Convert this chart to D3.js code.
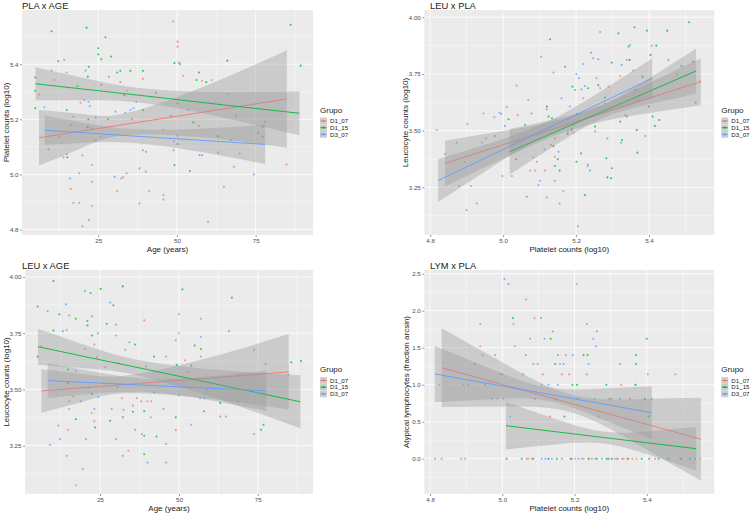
<!DOCTYPE html>
<html>
<head>
<meta charset="utf-8">
<script src="https://cdn.jsdelivr.net/npm/d3@7"></script>
<style>
  body { margin: 0; background: #fff; }
  svg { display: block; font-family: "Liberation Sans", Arial, sans-serif; }
</style>
</head>
<body>
<div id="chart"></div>
<script>
const groups = ["D1_07", "D1_15", "D3_07"];
const groupColors = ["#F8766D", "#00BA38", "#619CFF"];

// ---- PLA x AGE : [age, platelets log10]
const plaAge_D1_07 = [[48.8,5.555],[50.2,5.482],[50.2,5.464],[52,5.358],[10.2,5.377],[11,5.343],[15,5.37],[17.1,5.21],[16.3,5.18],[26,5.325],[32,5.335],[34.1,5.304],[39.2,5.347],[42,5.282],[58,5.34],[61,5.343],[57,5.176],[49,5.12],[50.2,5.14],[48.9,5.088],[39.2,5.088],[41.2,4.94],[31,4.94],[32.9,4.99],[23.1,5.034],[23.1,4.886],[22.1,4.834],[20,5.069],[17.1,4.897],[16.3,4.948],[15,5.073],[19.4,5.26],[21.5,5.17],[24.2,5.122],[84.8,5.036],[6.3,5.29],[35.7,5.2]];
const plaAge_D1_15 = [[5,5.352],[5,5.304],[5,5.24],[10.2,5.52],[12.3,5.411],[15.2,5.062],[15,5.234],[18.4,5.32],[21.3,5.533],[22,5.391],[21.7,5.355],[21.7,5.173],[21.9,5.2],[25,5.458],[25,5.436],[26,5.418],[27.3,5.498],[29.1,5.428],[31,5.37],[32,5.376],[28.1,5.2],[35.2,5.376],[33.3,5.288],[39.2,5.376],[39.2,5.234],[43.3,5.297],[48.1,5.213],[49.2,5.404],[51,5.401],[50.2,5.258],[49.2,5.034],[50.2,5.11],[54.1,5.012],[56.2,5.343],[57,5.37],[55.2,5.189],[59.3,5.335],[66,5.413],[68.8,5.213],[63,5.139],[67,5.125],[75.8,5.151],[77.2,5.137],[77.2,5.173],[86.1,5.543],[89.3,5.395]];
const plaAge_D3_07 = [[14.2,5.416],[7.9,5.244],[20.5,5.27],[21,5.377],[21.9,5.264],[22.3,5.248],[24.2,5.207],[28.4,5.355],[30.5,5.228],[33.6,5.224],[35.2,5.234],[36.2,5.24],[37.1,5.264],[9.2,5.091],[12.6,5.137],[14,5.062],[16.1,4.985],[19,5.004],[19,4.897],[20,4.812],[23.1,4.973],[22.8,5.167],[25.7,5.137],[30.2,4.991],[34,5.004],[32.3,4.985],[38.1,5.022],[38.1,4.895],[40.1,5.01],[40.2,5.082],[45.7,4.925],[45.7,4.909],[45.7,5.161],[50.6,5.406],[53.4,5.234],[57.2,5.07],[58,5.07],[59.9,4.828],[63,5.079],[64.9,4.955],[66,5.292],[68.1,5.028],[69.9,5.076],[74.4,5],[78,5.192]];
// fitted line with confidence band: [x, fit, lower, upper]
const plaAgeFit_D1_07 = [[6.2,5.133,5.032,5.234],[20,5.158,5.097,5.219],[33.7,5.182,5.142,5.222],[59.3,5.228,5.133,5.323],[84.9,5.274,5.097,5.451]];
const plaAgeFit_D1_15 = [[5.1,5.329,5.269,5.389],[22.5,5.307,5.269,5.345],[39.9,5.285,5.258,5.312],[64.4,5.253,5.207,5.299],[88.9,5.222,5.142,5.302]];
const plaAgeFit_D3_07 = [[8,5.160,5.107,5.213],[22.3,5.150,5.116,5.184],[36.6,5.139,5.114,5.164],[57.3,5.124,5.082,5.166],[78,5.109,5.037,5.181]];

// ---- LEU x PLA : [platelets log10, leucocytes log10]
const leuPla_D1_07 = [[4.841,3.397],[4.902,3.529],[4.894,3.363],[4.946,3.576],[4.942,3.447],[4.953,3.466],[5.037,3.699],[5.04,3.569],[5.069,3.635],[5.074,3.324],[5.088,3.324],[5.093,3.363],[5.115,3.324],[5.12,3.594],[5.131,3.437],[5.142,3.466],[5.142,3.385],[5.165,3.234],[5.177,3.496],[5.193,3.491],[5.205,3.079],[5.22,3.643],[5.232,3.344],[5.266,3.687],[5.289,3.694],[5.321,3.741],[5.334,3.569],[5.339,3.812],[5.357,3.765],[5.371,3.635],[5.453,3.812],[5.476,3.749],[5.54,3.716],[5.279,3.621]];
const leuPla_D1_15 = [[5.015,3.55],[5.036,3.374],[5.06,3.525],[5.12,3.606],[5.125,3.562],[5.129,3.903],[5.134,3.555],[5.138,3.432],[5.142,3.344],[5.15,3.374],[5.155,3.324],[5.17,3.782],[5.177,3.485],[5.188,3.503],[5.19,3.694],[5.201,3.363],[5.203,3.574],[5.214,3.4],[5.224,3.216],[5.233,3.687],[5.252,3.518],[5.261,3.701],[5.279,3.646],[5.283,3.378],[5.286,3.294],[5.296,3.29],[5.298,3.8],[5.298,3.334],[5.316,3.929],[5.321,3.54],[5.326,3.459],[5.339,3.562],[5.344,3.871],[5.347,3.812],[5.36,3.956],[5.362,3.679],[5.366,3.503],[5.368,3.403],[5.382,3.738],[5.394,3.941],[5.399,3.606],[5.404,3.834],[5.41,3.562],[5.416,3.521],[5.42,3.875],[5.428,3.547],[5.45,3.941],[5.489,3.785],[5.51,3.978],[5.521,3.804],[5.528,3.624]];
const leuPla_D3_07 = [[4.818,3.503],[4.873,3.447],[4.879,3.256],[4.9,3.15],[4.912,3.256],[4.928,3.179],[4.976,3.559],[4.99,3.579],[4.995,3.574],[4.978,3.476],[4.998,3.3],[5.005,3.521],[5.01,3.603],[5.024,3.3],[5.065,3.209],[5.078,3.576],[5.083,3.382],[5.097,3.26],[5.101,3.279],[5.104,3.826],[5.113,3.418],[5.12,3.206],[5.138,3.756],[5.142,3.279],[5.152,3.407],[5.155,3.179],[5.16,3.643],[5.183,3.606],[5.188,3.51],[5.194,3.525],[5.197,3.679],[5.201,3.75],[5.208,3.731],[5.215,3.682],[5.22,3.794],[5.224,3.697],[5.232,3.351],[5.238,3.324],[5.241,3.844],[5.247,3.819],[5.252,3.496],[5.256,3.731],[5.261,3.815],[5.266,3.935],[5.286,3.466],[5.325,3.79],[5.324,3.447],[5.348,3.878],[5.367,3.503],[5.39,3.476],[5.407,3.874]];
const leuPlaFit_D1_07 = [[4.841,3.356,3.254,3.456],[5.016,3.446,3.389,3.503],[5.19,3.535,3.505,3.565],[5.366,3.626,3.569,3.683],[5.542,3.716,3.612,3.820]];
const leuPlaFit_D1_15 = [[5.018,3.407,3.307,3.507],[5.146,3.496,3.439,3.553],[5.27,3.583,3.553,3.613],[5.40,3.673,3.616,3.730],[5.529,3.763,3.664,3.862]];
const leuPlaFit_D3_07 = [[4.822,3.280,3.185,3.375],[4.97,3.394,3.340,3.448],[5.12,3.509,3.479,3.539],[5.265,3.620,3.569,3.671],[5.409,3.731,3.643,3.819]];

// ---- LEU x AGE : [age, leucocytes log10]
const leuAge_D1_07 = [[6.3,3.691],[11.8,3.339],[14.4,3.765],[14.9,3.321],[15.2,3.413],[16.5,3.468],[17.3,3.074],[20.2,3.68],[23.2,3.7],[23.2,3.358],[22.4,3.395],[24,3.643],[26.6,3.599],[30.1,3.74],[30.8,3.618],[31.9,3.461],[32.4,3.409],[34,3.227],[35.4,3.428],[36.6,3.462],[38,3.447],[39,3.807],[40,3.447],[41.2,3.447],[41.1,3.376],[49,3.718],[50,3.75],[50,3.834],[49,3.319],[52,3.629],[52.7,3.577],[57,3.646],[84.7,3.566]];
const leuAge_D1_15 = [[5.2,3.869],[5.2,3.646],[10.2,3.982],[10.2,3.762],[12.1,3.834],[14.9,3.588],[14.9,3.527],[17.3,3.368],[17.3,3.814],[21,3.804],[21,3.785],[22,3.929],[22.4,3.74],[22.4,3.48],[23.4,3.331],[25.2,3.947],[27.1,3.792],[28.2,3.361],[29.2,3.874],[32.2,3.958],[32.2,3.376],[36.1,3.7],[35.4,3.401],[39,3.403],[39,3.294],[39,3.212],[42.1,3.646],[42.9,3.291],[49,3.376],[49.3,3.609],[51.1,3.945],[53.9,3.606],[55,3.695],[57,3.68],[58,3.403],[58.8,3.499],[63.1,3.44],[66.8,3.908],[68.7,3.447],[69.1,3.562],[76,3.321],[76.8,3.343],[85.6,3.621],[88.7,3.626]];
const leuAge_D3_07 = [[8.4,3.848],[9.1,3.254],[12.3,3.279],[13.2,3.759],[14.2,3.878],[14.4,3.205],[15.2,3.447],[15.2,3.829],[17.3,3.581],[18.9,3.447],[19.5,3.146],[20.2,3.938],[20.5,3.279],[21.3,3.507],[22.4,3.825],[23.2,3.413],[24.3,3.75],[24.5,3.465],[28.2,3.886],[28.7,3.413],[30,3.279],[30.1,3.788],[30.5,3.51],[32.2,3.205],[33,3.676],[34.3,3.71],[36.1,3.321],[38.2,3.302],[40,3.175],[39.5,3.602],[42.1,3.487],[45.1,3.413],[45.9,3.646],[45.9,3.257],[45.9,3.175],[50,3.473],[53.9,3.343],[56.9,3.814],[56.9,3.733],[56.7,3.461],[58,3.461],[63.1,3.379],[64.9,3.379],[65.9,3.759],[73.8,3.676],[73.8,3.302],[77.5,3.614],[76.8,3.487]];
const leuAgeFit_D1_07 = [[6.4,3.493,3.396,3.590],[20.2,3.508,3.449,3.568],[33.9,3.523,3.483,3.563],[59.4,3.550,3.459,3.641],[84.8,3.578,3.41,3.746]];
const leuAgeFit_D1_15 = [[5.3,3.690,3.61,3.77],[21.5,3.642,3.592,3.692],[37.7,3.595,3.56,3.63],[63.1,3.520,3.454,3.586],[88.5,3.445,3.327,3.563]];
const leuAgeFit_D3_07 = [[8.4,3.539,3.462,3.616],[24.2,3.529,3.483,3.576],[40,3.518,3.488,3.548],[58.9,3.506,3.454,3.558],[77.7,3.494,3.404,3.584]];

// ---- LYM x PLA : [platelets log10, atypical lymphocytes arcsin]
const lymPla_D1_07 = [[4.939,1.82],[4.939,1.52],[4.946,1.4],[5.031,1.82],[5.035,1.52],[5.066,2.15],[5.086,1.28],[5.089,1.9],[5.112,1.14],[5.132,0.57],[5.14,1.72],[5.165,1.14],[5.176,1.4],[5.185,1.14],[5.206,2.36],[5.234,1.82],[5.266,0.57],[5.294,0.81],[5.329,1.0],[5.354,0.81],[5.479,1.14],
  [4.832,0],[4.886,0],[4.897,0],[5.068,0],[5.072,0],[5.082,0],[5.165,0],[5.188,0],[5.202,0],[5.22,0],[5.239,0],[5.257,0],[5.294,0],[5.311,0],[5.32,0],[5.331,0],[5.336,0],[5.345,0],[5.36,0],[5.372,0],[5.423,0],[5.497,0],[5.548,0]];
const lymPla_D1_15 = [[5.029,1.9],[5.172,0.57],[5.194,1.0],[5.146,1.28],[5.134,1.62],[5.225,1.4],[5.236,1.4],[5.288,1.0],[5.301,0.81],[5.368,1.0],[5.37,1.28],[5.37,1.4],[5.405,0.57],[5.4,1.62],[5.395,0.81],[5.207,1.0],
  [5.012,0],[5.054,0],[5.086,0],[5.128,0],[5.151,0],[5.192,0],[5.239,0],[5.262,0],[5.289,0],[5.303,0],[5.349,0],[5.386,0],[5.407,0],[5.433,0],[5.46,0],[5.493,0],[5.52,0],[5.534,0]];
const lymPla_D3_07 = [[4.826,1.0],[4.892,1.0],[4.906,1.0],[4.923,1.28],[4.952,1.0],[4.971,0.81],[4.987,0.81],[5.003,0.81],[4.994,1.14],[5.0,1.14],[4.98,1.4],[5.022,0.57],[5.006,2.43],[5.017,2.36],[5.057,1.14],[5.065,1.4],[5.077,1.62],[5.098,1.28],[5.091,0.81],[5.107,1.9],[5.109,1.0],[5.117,1.62],[5.128,1.0],[5.146,0.81],[5.154,1.4],[5.154,1.0],[5.16,1.28],[5.17,1.28],[5.195,1.4],[5.208,0.81],[5.234,1.14],[5.239,1.28],[5.252,1.62],[5.255,0.81],[5.259,1.52],[5.262,1.72],[5.326,1.28],[5.326,0.81],[5.37,1.0],[5.403,1.14],[5.414,0.81],
  [4.814,0],[5.109,0],[5.119,0],[5.128,0],[5.137,0],[5.192,0],[5.211,0],[5.225,0],[5.248,0],[5.276,0],[5.294,0],[5.317,0]];
const lymPlaFit_D1_07 = [[4.832,1.23,0.697,1.763],[5.01,0.99,0.704,1.276],[5.19,0.747,0.627,0.867],[5.37,0.505,0.206,0.804],[5.55,0.262,-0.298,0.822]];
const lymPlaFit_D1_15 = [[5.01,0.446,0.126,0.766],[5.145,0.366,0.192,0.540],[5.28,0.287,0.207,0.367],[5.41,0.21,0.048,0.372],[5.537,0.135,-0.158,0.428]];
const lymPlaFit_D3_07 = [[4.813,1.145,0.762,1.528],[4.966,1.012,0.805,1.219],[5.12,0.878,0.788,0.968],[5.267,0.75,0.555,0.945],[5.414,0.622,0.264,0.980]];

const width = 750, height = 514;

const svg = d3.select("#chart").append("svg")
  .attr("width", width)
  .attr("height", height);

const panels = [
  { title: "PLA x AGE", xLabel: "Age (years)", yLabel: "Platelet counts (log10)",
    box: [22, 10, 313, 235], xDomain: [0.8, 93.2], yDomain: [4.78, 5.597],
    xTicks: [25, 50, 75], yTicks: [4.8, 5.0, 5.2, 5.4], yFmt: ".1f", titleX: 22, yTitleX: 9,
    points: [plaAge_D1_07, plaAge_D1_15, plaAge_D3_07], fits: [plaAgeFit_D1_07, plaAgeFit_D1_15, plaAgeFit_D3_07] },
  { title: "LEU x PLA", xLabel: "Platelet counts (log10)", yLabel: "Leucocyte counts (log10)",
    box: [424.3, 10, 714.3, 235], xDomain: [4.784, 5.579], yDomain: [3.040, 4.032],
    xTicks: [4.8, 5.0, 5.2, 5.4], yTicks: [3.25, 3.5, 3.75, 4.0], yFmt: ".2f", titleX: 430, yTitleX: 408,
    points: [leuPla_D1_07, leuPla_D1_15, leuPla_D3_07], fits: [leuPlaFit_D1_07, leuPlaFit_D1_15, leuPlaFit_D3_07] },
  { title: "LEU x AGE", xLabel: "Age (years)", yLabel: "Leucocyte counts (log10)",
    box: [25, 270, 313, 494], xDomain: [1.2, 92.5], yDomain: [3.035, 4.031],
    xTicks: [25, 50, 75], yTicks: [3.25, 3.5, 3.75, 4.0], yFmt: ".2f", titleX: 22, yTitleX: 9,
    points: [leuAge_D1_07, leuAge_D1_15, leuAge_D3_07], fits: [leuAgeFit_D1_07, leuAgeFit_D1_15, leuAgeFit_D3_07] },
  { title: "LYM x PLA", xLabel: "Platelet counts (log10)", yLabel: "Atypical lymphocytes (fraction arcsin)",
    box: [424.3, 270, 714.3, 494], xDomain: [4.784, 5.587], yDomain: [-0.477, 2.55],
    xTicks: [4.8, 5.0, 5.2, 5.4], yTicks: [0, 0.5, 1.0, 1.5, 2.0, 2.5], yFmt: ".1f", titleX: 430, yTitleX: 409,
    points: [lymPla_D1_07, lymPla_D1_15, lymPla_D3_07], fits: [lymPlaFit_D1_07, lymPlaFit_D1_15, lymPlaFit_D3_07] }
];

function minorTicks(major, domain) {
  const step = major[1] - major[0];
  const out = [];
  for (let v = major[0] - step / 2; v < domain[1]; v += step) {
    if (v > domain[0]) out.push(v);
  }
  return out;
}

panels.forEach((p, pi) => {
  const [x0, y0, x1, y1] = p.box;
  const x = d3.scaleLinear().domain(p.xDomain).range([x0, x1]);
  const y = d3.scaleLinear().domain(p.yDomain).range([y1, y0]);
  const g = svg.append("g");

  g.append("rect")
    .attr("x", x0).attr("y", y0)
    .attr("width", x1 - x0).attr("height", y1 - y0)
    .attr("fill", "#EBEBEB");

  // grid
  const grid = g.append("g").attr("stroke", "#fff").attr("fill", "none");
  minorTicks(p.xTicks, p.xDomain).forEach(v => grid.append("line")
    .attr("x1", x(v)).attr("x2", x(v)).attr("y1", y0).attr("y2", y1).attr("stroke-width", 0.4));
  minorTicks(p.yTicks, p.yDomain).forEach(v => grid.append("line")
    .attr("y1", y(v)).attr("y2", y(v)).attr("x1", x0).attr("x2", x1).attr("stroke-width", 0.4));
  p.xTicks.forEach(v => grid.append("line")
    .attr("x1", x(v)).attr("x2", x(v)).attr("y1", y0).attr("y2", y1).attr("stroke-width", 0.8));
  p.yTicks.forEach(v => grid.append("line")
    .attr("y1", y(v)).attr("y2", y(v)).attr("x1", x0).attr("x2", x1).attr("stroke-width", 0.8));

  const clipId = "clip" + pi;
  svg.append("clipPath").attr("id", clipId).append("rect")
    .attr("x", x0).attr("y", y0).attr("width", x1 - x0).attr("height", y1 - y0);
  const plot = g.append("g").attr("clip-path", `url(#${clipId})`);

  // points
  p.points.forEach((pts, gi) => {
    plot.append("g").selectAll("circle")
      .data(pts)
      .join("circle")
      .attr("cx", d => x(d[0]))
      .attr("cy", d => y(d[1]))
      .attr("r", 1.05)
      .attr("fill", groupColors[gi])
      .attr("opacity", 0.75);
  });

  // smooth: ribbon then line, group by group
  const band = d3.area()
    .x(d => x(d[0]))
    .y0(d => y(d[2]))
    .y1(d => y(d[3]))
    .curve(d3.curveNatural);
  const fitLine = d3.line()
    .x(d => x(d[0]))
    .y(d => y(d[1]));
  p.fits.forEach((f, gi) => {
    plot.append("path").attr("d", band(f))
      .attr("fill", "#999999").attr("fill-opacity", 0.38);
    plot.append("path").attr("d", fitLine(f))
      .attr("fill", "none").attr("stroke", groupColors[gi]).attr("stroke-width", 1)
      .attr("stroke-opacity", 0.9);
  });

  // axes
  const xAxis = g.append("g").attr("transform", `translate(0,${y1})`)
    .call(d3.axisBottom(x).tickValues(p.xTicks).tickSize(2).tickPadding(1.5)
      .tickFormat(p.xTicks[0] < 10 ? d3.format(".1f") : d3.format("d")));
  const yAxis = g.append("g").attr("transform", `translate(${x0},0)`)
    .call(d3.axisLeft(y).tickValues(p.yTicks).tickSize(2).tickPadding(1.5)
      .tickFormat(d3.format(p.yFmt)));
  [xAxis, yAxis].forEach(a => {
    a.select(".domain").remove();
    a.selectAll(".tick line").attr("stroke", "#333333").attr("stroke-width", 0.5);
    a.selectAll(".tick text").attr("fill", "#4D4D4D")
      .style("font-size", "6.2px").style("font-family", "Liberation Sans, Arial, sans-serif");
  });

  // titles
  g.append("text").attr("x", p.titleX).attr("y", y0 - 1.5)
    .attr("fill", "#1a1a1a").style("font-size", "9.4px").text(p.title);
  g.append("text").attr("x", (x0 + x1) / 2).attr("y", y1 + 16.5)
    .attr("text-anchor", "middle").attr("fill", "#1a1a1a").style("font-size", "8px").text(p.xLabel);
  g.append("text")
    .attr("transform", `translate(${p.yTitleX},${(y0 + y1) / 2}) rotate(-90)`)
    .attr("text-anchor", "middle").attr("fill", "#1a1a1a").style("font-size", "8px").text(p.yLabel);

  // legend
  const lx = x1 + 7, ly = (y0 + y1) / 2 - 10;
  const lg = g.append("g").attr("transform", `translate(${lx},${ly})`);
  lg.append("text").attr("x", 0).attr("y", 0).attr("fill", "#1a1a1a")
    .style("font-size", "8px").text("Grupo");
  groups.forEach((name, gi) => {
    const ky = 8.5 + gi * 6.7;
    lg.append("rect").attr("x", 0).attr("y", ky - 3.35).attr("width", 7).attr("height", 6.7).attr("fill", "#F2F2F2");
    lg.append("rect").attr("x", 0).attr("y", ky - 3.35).attr("width", 7).attr("height", 6.7)
      .attr("fill", "#999999").attr("fill-opacity", 0.4);
    lg.append("line").attr("x1", 0.5).attr("x2", 6.5).attr("y1", ky).attr("y2", ky)
      .attr("stroke", groupColors[gi]).attr("stroke-width", 1);
    lg.append("circle").attr("cx", 3.5).attr("cy", ky).attr("r", 1.1).attr("fill", groupColors[gi]);
    lg.append("text").attr("x", 10).attr("y", ky + 2.2).attr("fill", "#1a1a1a")
      .style("font-size", "6.2px").text(name);
  });
});
</script>
</body>
</html>
